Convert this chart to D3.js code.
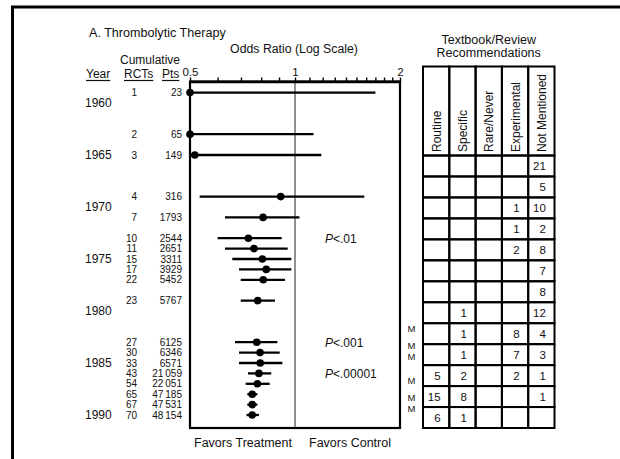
<!DOCTYPE html>
<html>
<head>
<meta charset="utf-8">
<script src="https://cdn.jsdelivr.net/npm/d3@7"></script>
<style>
  body { margin: 0; background: #fff; }
  svg { display: block; font-family: 'Liberation Sans', Arial, Helvetica, sans-serif; fill: #111; }
  text { fill: #111; }
</style>
</head>
<body>
<svg id="chart" width="620" height="459"></svg>
<script>
// cumulative meta-analysis rows
const years = [1959, 1963, 1965, 1969, 1971, 1973, 1974, 1975, 1976, 1977, 1979, 1983, 1984, 1985, 1986, 1987, 1988, 1989, 1990]
const rcts = [1, 2, 3, 4, 7, 10, 11, 15, 17, 22, 23, 27, 30, 33, 43, 54, 65, 67, 70]
const pts = [23, 65, 149, 316, 1793, 2544, 2651, 3311, 3929, 5452, 5767, 6125, 6346, 6571, 21059, 22051, 47185, 47531, 48154]
const oddsRatio = [0.5, 0.5, 0.516, 0.91, 0.81, 0.735, 0.763, 0.806, 0.827, 0.811, 0.782, 0.777, 0.794, 0.795, 0.788, 0.78, 0.754, 0.754, 0.754]
const ciLow = [0.3, 0.3, 0.3, 0.533, 0.63, 0.6, 0.63, 0.661, 0.691, 0.699, 0.699, 0.673, 0.691, 0.691, 0.733, 0.722, 0.73, 0.73, 0.726]
const ciHigh = [1.7, 1.13, 1.19, 1.58, 1.03, 0.916, 0.953, 0.976, 0.976, 0.936, 0.876, 0.89, 0.904, 0.92, 0.855, 0.846, 0.78, 0.78, 0.788]

const yearLabels = [1960, 1965, 1970, 1975, 1980, 1985, 1990]
const pLabels = [{ row: 5, text: '<.01' }, { row: 11, text: '<.001' }, { row: 14, text: '<.00001' }]
const majorTicks = [0.5, 1, 2]
const minorTicks = [0.6, 0.7, 0.8, 0.9, 1.1, 1.2, 1.3, 1.4, 1.5, 1.6, 1.7, 1.8, 1.9]

// meta-analysis markers (year)
const mYears = [1981.7, 1983.3, 1984.35, 1986.7, 1988.3, 1989.35]

// textbook / review table
const columns = ['Routine', 'Specific', 'Rare/Never', 'Experimental', 'Not Mentioned']
const routine = [null, null, null, null, null, null, null, null, null, null, 5, 15, 6]
const specific = [null, null, null, null, null, null, null, 1, 1, 1, 2, 8, 1]
const rareNever = [null, null, null, null, null, null, null, null, null, null, null, null, null]
const experimental = [null, null, 1, 1, 2, null, null, null, 8, 7, 2, null, null]
const notMentioned = [21, 5, 10, 2, 8, 7, 8, 12, 4, 3, 1, 1, null]

const svg = d3.select('#chart')

const x = d3.scaleLog().domain([0.5, 2]).range([190, 400]).clamp(true)
const y = d3.scaleLinear().domain([1960, 1990]).range([103, 415])
const plotTop = 81.5
const plotBottom = 428

// outer frame (top and left only)
svg.append('path')
  .attr('d', 'M12.5,459 V7 H620')
  .attr('fill', 'none').attr('stroke', '#000').attr('stroke-width', 3)

// titles
svg.append('text').attr('x', 89).attr('y', 37).attr('font-size', 12.6).text('A.  Thrombolytic Therapy')
svg.append('text').attr('x', 294).attr('y', 53).attr('font-size', 12.3).attr('text-anchor', 'middle').text('Odds Ratio (Log Scale)')
svg.append('text').attr('x', 150).attr('y', 64).attr('font-size', 12).attr('text-anchor', 'middle').text('Cumulative')

const heads = [{ t: 'Year', x: 86 }, { t: 'RCTs', x: 124 }, { t: 'Pts', x: 162 }]
heads.forEach((h) => {
  const t = svg.append('text').attr('x', h.x).attr('y', 77.5).attr('font-size', 12).text(h.t)
  const w = t.node().getComputedTextLength()
  svg.append('line').attr('x1', h.x).attr('x2', h.x + w).attr('y1', 80.5).attr('y2', 80.5)
    .attr('stroke', '#111').attr('stroke-width', 1.2)
})

// plot box
svg.append('rect')
  .attr('x', x(0.5)).attr('y', plotTop)
  .attr('width', x(2) - x(0.5)).attr('height', plotBottom - plotTop)
  .attr('fill', 'none').attr('stroke', '#000').attr('stroke-width', 2.2)

svg.append('line')
  .attr('x1', x(1)).attr('x2', x(1)).attr('y1', plotTop).attr('y2', plotBottom)
  .attr('stroke', '#222').attr('stroke-width', 1)

// axis
const axis = d3.axisTop(x)
  .tickValues(majorTicks.concat(minorTicks))
  .tickFormat((d) => (majorTicks.includes(d) ? String(d) : ''))
  .tickSize(4)
  .tickPadding(2)
  .tickSizeOuter(0)

const gAxis = svg.append('g').attr('transform', `translate(0,${plotTop})`).call(axis)
gAxis.select('.domain').attr('stroke', '#000').attr('stroke-width', 2.6)
gAxis.selectAll('.tick line').attr('stroke', '#000').attr('stroke-width', 1.4)
gAxis.selectAll('.tick text').attr('font-size', 11.5).attr('font-family', 'Liberation Sans, Arial, sans-serif').attr('fill', '#111')

// year labels
svg.selectAll('.yr').data(yearLabels).enter().append('text')
  .attr('x', 85).attr('y', (d) => y(d) + 4.3)
  .attr('font-size', 12).text((d) => d)

// row numbers
const fmt = (n) => (n >= 10000 ? String(n).slice(0, -3) + '\u2009' + String(n).slice(-3) : String(n))
svg.selectAll('.rct').data(rcts).enter().append('text')
  .attr('x', 137).attr('y', (d, i) => y(years[i]) + 3.6)
  .attr('font-size', 10).attr('text-anchor', 'end').text((d) => d)
svg.selectAll('.pts').data(pts).enter().append('text')
  .attr('x', 182).attr('y', (d, i) => y(years[i]) + 3.6)
  .attr('font-size', 10).attr('text-anchor', 'end').text((d) => fmt(d))

// confidence intervals and points
svg.selectAll('.ci').data(years).enter().append('line')
  .attr('x1', (d, i) => x(ciLow[i])).attr('x2', (d, i) => x(ciHigh[i]))
  .attr('y1', (d) => y(d)).attr('y2', (d) => y(d))
  .attr('stroke', '#000').attr('stroke-width', 2.3)
svg.selectAll('.pt').data(years).enter().append('circle')
  .attr('cx', (d, i) => x(oddsRatio[i])).attr('cy', (d) => y(d)).attr('r', 3.8)
  .attr('fill', '#000')

// p-values
pLabels.forEach((p) => {
  const t = svg.append('text').attr('x', 325).attr('y', y(years[p.row]) + 4.5).attr('font-size', 12)
  t.append('tspan').attr('font-style', 'italic').text('P')
  t.append('tspan').text(p.text)
})

svg.append('text').attr('x', 243).attr('y', 447).attr('font-size', 12.5).attr('text-anchor', 'middle').text('Favors Treatment')
svg.append('text').attr('x', 350).attr('y', 447).attr('font-size', 12.5).attr('text-anchor', 'middle').text('Favors Control')

// M markers
svg.selectAll('.m').data(mYears).enter().append('text')
  .attr('x', 411.5).attr('y', (d) => y(d) + 3.5)
  .attr('font-size', 9.5).attr('text-anchor', 'middle').text('M')

// table
const cx = d3.scaleBand().domain(columns).range([423, 554.5])
const ry = d3.scaleBand().domain(d3.range(notMentioned.length)).range([155.5, 428])
const headTop = 66.5
const colData = [routine, specific, rareNever, experimental, notMentioned]

svg.append('text').attr('x', 488.7).attr('y', 44).attr('font-size', 12.5).attr('text-anchor', 'middle').text('Textbook/Review')
svg.append('text').attr('x', 488.7).attr('y', 56.5).attr('font-size', 12.5).attr('text-anchor', 'middle').text('Recommendations')

const grid = svg.append('g').attr('stroke', '#000').attr('stroke-width', 2).attr('fill', 'none')
columns.forEach((c) => {
  grid.append('rect').attr('x', cx(c)).attr('y', headTop).attr('width', cx.bandwidth()).attr('height', ry(0) - headTop)
  ry.domain().forEach((r) => {
    grid.append('rect').attr('x', cx(c)).attr('y', ry(r)).attr('width', cx.bandwidth()).attr('height', ry.bandwidth())
  })
})

svg.selectAll('.colhead').data(columns).enter().append('text')
  .attr('transform', (d) => `translate(${cx(d) + cx.bandwidth() / 2 + 4.5},152) rotate(-90)`)
  .attr('font-size', 12).text((d) => d)

colData.forEach((vals, ci) => {
  const c = columns[ci]
  const cells = vals.map((v, row) => ({ v, row })).filter((d) => d.v !== null)
  svg.selectAll('.cell' + ci).data(cells).enter().append('text')
    .attr('x', cx(c) + cx.bandwidth() / 2 + 4.5)
    .attr('y', (d) => ry(d.row) + ry.bandwidth() / 2 + 4)
    .attr('font-size', 11.5).attr('text-anchor', 'end').text((d) => d.v)
})
</script>
</body>
</html>
